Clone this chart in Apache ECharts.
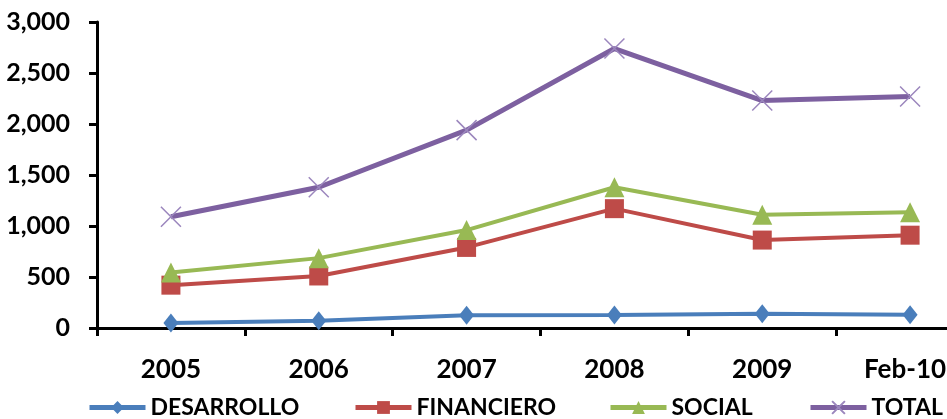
<!DOCTYPE html>
<html>
<head>
<meta charset="utf-8">
<script src="https://cdn.jsdelivr.net/npm/echarts@6/dist/echarts.min.js"></script>
<style>
  html, body { margin: 0; padding: 0; background: #fff; overflow: hidden; }
  #chart { width: 1000px; height: 419px; }
</style>
</head>
<body>
<div id="chart"></div>
<script>
// Categories and series values
const categories = ['2005', '2006', '2007', '2008', '2009', 'Feb-10'];
const seriesNames = ['DESARROLLO', 'FINANCIERO', 'SOCIAL', 'TOTAL'];
const desarrollo = [50, 70, 125, 127, 140, 130];
const financiero = [420, 510, 790, 1170, 862, 910];
const social = [545, 685, 960, 1380, 1110, 1135];
const total = [1090, 1380, 1940, 2740, 2230, 2270];
const yTicks = [0, 500, 1000, 1500, 2000, 2500, 3000];

const FONT = 'Lato';
const crossPath = 'path://M0,0L10,10M10,0L0,10';
const legendLeft = [82, 348, 603, 803];

const chart = echarts.init(document.getElementById('chart'), null, { renderer: 'canvas' });

function lineSeries(name, data, color, symbol, size, extra) {
  return Object.assign({
    name: name,
    type: 'line',
    data: data,
    symbol: symbol,
    symbolSize: size,
    showAllSymbol: true,
    lineStyle: { color: color, width: 4 },
    itemStyle: { color: color },
    emphasis: { disabled: true },
    animation: false
  }, extra || {});
}

// One legend per entry so each sits at its own spot along the bottom row
const legends = seriesNames.map((name, i) => ({
  left: legendLeft[i],
  top: 391,
  width: 300,
  itemWidth: 56,
  itemHeight: 16,
  lineStyle: { width: 5 },
  textStyle: { fontFamily: FONT, fontWeight: 'bold', fontSize: 23, color: '#000' },
  data: [name]
}));

// The last category label is nudged left so it stays inside the frame
const categoryData = categories.map((c, i) =>
  i === categories.length - 1 ? { value: c, textStyle: { padding: [0, 10, 0, 0] } } : c
);

chart.setOption({
  backgroundColor: '#ffffff',
  animation: false,
  grid: { left: 97, top: 22, height: 306, width: 887, containLabel: false },
  legend: legends,
  xAxis: {
    type: 'category',
    data: categoryData,
    boundaryGap: true,
    axisLine: { lineStyle: { color: '#000', width: 3 } },
    axisTick: { show: true, length: 8, lineStyle: { color: '#000', width: 3 } },
    axisLabel: { margin: 29, fontFamily: FONT, fontWeight: 'bold', fontSize: 26, color: '#000' },
    splitLine: { show: false }
  },
  yAxis: {
    type: 'value',
    min: yTicks[0],
    max: yTicks[yTicks.length - 1],
    interval: 500,
    axisLine: { show: true, lineStyle: { color: '#000', width: 3 } },
    axisTick: { show: true, length: 8, lineStyle: { color: '#000', width: 3 } },
    axisLabel: {
      margin: 27,
      fontFamily: FONT, fontWeight: 'bold', fontSize: 25, color: '#000',
      formatter: v => v.toLocaleString('en-US')
    },
    splitLine: { show: false }
  },
  series: [
    lineSeries('DESARROLLO', desarrollo, '#4a7ebb', 'diamond', [15, 19]),
    lineSeries('FINANCIERO', financiero, '#be4b48', 'rect', 19),
    lineSeries('SOCIAL', social, '#98b954', 'triangle', 20),
    lineSeries('TOTAL', total, '#7d60a0', crossPath, 20, {
      lineStyle: { color: '#7d60a0', width: 5 },
      itemStyle: { color: '#7d60a0', borderColor: '#9b86bd', borderWidth: 1.5 }
    })
  ]
});
</script>
</body>
</html>
